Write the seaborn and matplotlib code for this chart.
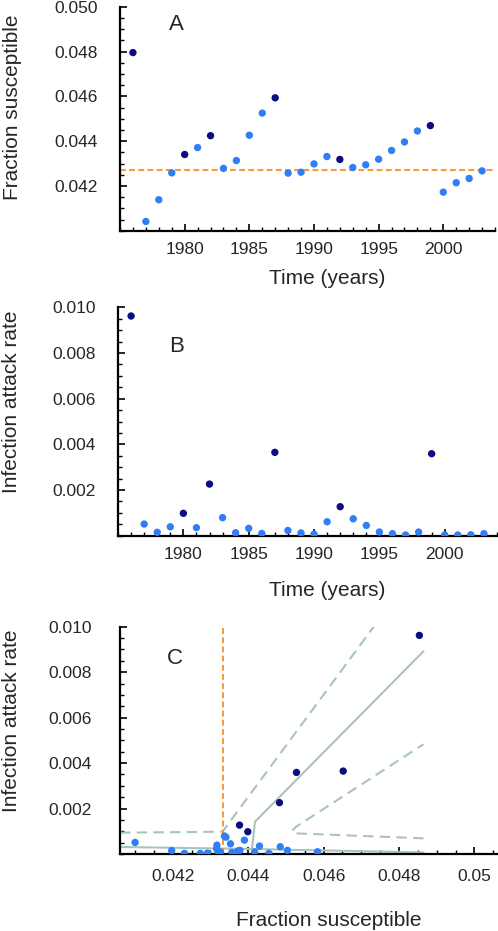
import numpy as np
import pandas as pd
import seaborn as sns
import matplotlib
matplotlib.use('Agg')
import matplotlib.pyplot as plt
from matplotlib.ticker import MultipleLocator, FixedLocator

# yearly data
years = list(range(1976, 2004))
epidemic_years = [1976, 1980, 1982, 1987, 1992, 1999]

frac_susceptible = [0.04796, 0.04042, 0.04139, 0.04259, 0.04341, 0.04372, 0.04425,
                    0.04279, 0.04314, 0.04427, 0.04526, 0.04594, 0.04258, 0.04262,
                    0.04299, 0.04332, 0.04319, 0.04283, 0.04295, 0.04320, 0.04359,
                    0.04397, 0.04446, 0.04470, 0.04173, 0.04215, 0.04234, 0.04268]

attack_rate = [0.00962, 0.00051, 0.00015, 0.00039, 0.00098, 0.00035, 0.00226,
               0.00079, 0.00013, 0.00032, 0.00010, 0.00365, 0.00023, 0.00012,
               0.00007, 0.00061, 0.00127, 0.00074, 0.00045, 0.00016, 0.00009,
               0.00003, 0.00016, 0.00359, 0.00003, 0.00003, 0.00004, 0.00009]

# x positions of the points in panel C
c_susceptible = [0.04854, 0.04100, 0.04197, 0.04317, 0.04399, 0.04430, 0.04483,
                 0.04337, 0.04372, 0.04485, 0.04584, 0.04652, 0.04316, 0.04320,
                 0.04357, 0.04390, 0.04377, 0.04341, 0.04353, 0.04378, 0.04417,
                 0.04455, 0.04504, 0.04528, 0.04231, 0.04273, 0.04292, 0.04326]

threshold_a = 0.04274
threshold_c = 0.04332

# model curves in panel C
solid_low_x = [0.0406, 0.0441, 0.04865]
solid_low_y = [0.00031, 0.00022, 0.00007]
solid_up_x = [0.0441, 0.04418, 0.04865]
solid_up_y = [0.00020, 0.00142, 0.00892]
dash_up_x = [0.0406, 0.0433, 0.04335, 0.04733]
dash_up_y = [0.00094, 0.00098, 0.00105, 0.0100]
dash_low_x = [0.04865, 0.04523, 0.04516, 0.04527, 0.04865]
dash_low_y = [0.00069, 0.00091, 0.00102, 0.00120, 0.00483]

df = pd.DataFrame({'year': years, 'S': frac_susceptible, 'I': attack_rate, 'Sc': c_susceptible})
df['kind'] = np.where(df['year'].isin(epidemic_years), 'epidemic', 'other')

palette = {'epidemic': '#0c0c80', 'other': '#2f7ef5'}
orange = '#f59b3d'
curve_col = '#a8c4c0'

sns.set_style('ticks')
plt.rcParams['font.family'] = ['Liberation Sans', 'DejaVu Sans']

fig = plt.figure(figsize=(4.98, 9.31), dpi=100)

TICK_FS = 12.5
LAB_FS = 15


def style_axis(ax):
    sns.despine(ax=ax)
    for sp in ['left', 'bottom']:
        ax.spines[sp].set_linewidth(1.6)
        ax.spines[sp].set_color('black')
    ax.tick_params(which='major', direction='in', length=5, width=1.2, labelsize=TICK_FS, color='black')
    ax.tick_params(which='minor', direction='in', length=3, width=1.0, color='black')
    ax.tick_params(axis='y', which='major', pad=16)
    ax.tick_params(axis='x', which='major', pad=8)
    ax.set_facecolor('white')


# Panel A
axA = fig.add_axes([0.241, 0.752, 0.753, 0.2406])
axA.axhline(threshold_a, color=orange, lw=1.5, ls=(0, (2.8, 1.6)), zorder=1)
sns.scatterplot(data=df, x='year', y='S', hue='kind', palette=palette, s=28,
                edgecolor='none', legend=False, ax=axA, zorder=3)
axA.set_xlim(1975, 2004)
axA.set_ylim(0.040, 0.050)
axA.yaxis.set_major_locator(FixedLocator([0.042, 0.044, 0.046, 0.048, 0.050]))
axA.yaxis.set_minor_locator(MultipleLocator(0.0005))
axA.xaxis.set_major_locator(FixedLocator([1980, 1985, 1990, 1995, 2000]))
axA.xaxis.set_minor_locator(MultipleLocator(1))
axA.set_xlabel('Time (years)', fontsize=LAB_FS)
axA.set_ylabel('Fraction susceptible', fontsize=LAB_FS)
axA.xaxis.set_label_coords(0.552, -0.172)
axA.yaxis.set_label_coords(-0.262, 0.554)
axA.text(0.15, 0.92, 'A', transform=axA.transAxes, fontsize=16, ha='center', va='center')
style_axis(axA)

# Panel B
axB = fig.add_axes([0.237, 0.4246, 0.761, 0.2453])
sns.scatterplot(data=df, x='year', y='I', hue='kind', palette=palette, s=28,
                edgecolor='none', legend=False, ax=axB, zorder=3)
axB.set_xlim(1975, 2004)
axB.set_ylim(0, 0.010)
axB.yaxis.set_major_locator(FixedLocator([0.002, 0.004, 0.006, 0.008, 0.010]))
axB.yaxis.set_minor_locator(MultipleLocator(0.0005))
axB.xaxis.set_major_locator(FixedLocator([1980, 1985, 1990, 1995, 2000]))
axB.xaxis.set_minor_locator(MultipleLocator(1))
axB.set_xlabel('Time (years)', fontsize=LAB_FS)
axB.set_ylabel('Infection attack rate', fontsize=LAB_FS)
axB.xaxis.set_label_coords(0.551, -0.2)
axB.yaxis.set_label_coords(-0.255, 0.588)
axB.text(0.155, 0.83, 'B', transform=axB.transAxes, fontsize=16, ha='center', va='center')
style_axis(axB)

# Panel C
axC = fig.add_axes([0.241, 0.0827, 0.757, 0.2441])
dash = (0, (5, 3))
axC.plot(solid_low_x, solid_low_y, color=curve_col, lw=1.5, zorder=1)
axC.plot(solid_up_x, solid_up_y, color=curve_col, lw=1.5, zorder=1)
axC.plot(dash_up_x, dash_up_y, color=curve_col, lw=1.5, ls=dash, zorder=1)
axC.plot(dash_low_x, dash_low_y, color=curve_col, lw=1.5, ls=dash, zorder=1)
axC.axvline(threshold_c, color=orange, lw=1.5, ls=(0, (2.8, 1.6)), zorder=2)
sns.scatterplot(data=df, x='Sc', y='I', hue='kind', palette=palette, s=28,
                edgecolor='none', legend=False, ax=axC, zorder=3)
axC.set_xlim(0.0406, 0.0506)
axC.set_ylim(0, 0.010)
axC.yaxis.set_major_locator(FixedLocator([0.002, 0.004, 0.006, 0.008, 0.010]))
axC.yaxis.set_minor_locator(MultipleLocator(0.0005))
axC.xaxis.set_major_locator(FixedLocator([0.042, 0.044, 0.046, 0.048, 0.050]))
axC.set_xticklabels(['0.042', '0.044', '0.046', '0.048', '0.05'])
axC.xaxis.set_minor_locator(MultipleLocator(0.0005))
axC.set_xlabel('Fraction susceptible', fontsize=LAB_FS)
axC.set_ylabel('Infection attack rate', fontsize=LAB_FS)
axC.xaxis.set_label_coords(0.554, -0.25)
axC.yaxis.set_label_coords(-0.262, 0.586)
axC.text(0.145, 0.86, 'C', transform=axC.transAxes, fontsize=16, ha='center', va='center')
style_axis(axC)
axC.tick_params(axis='y', which='major', pad=20)
axC.tick_params(axis='x', which='major', pad=11)

fig.savefig('out.png', dpi=100, facecolor='white')
